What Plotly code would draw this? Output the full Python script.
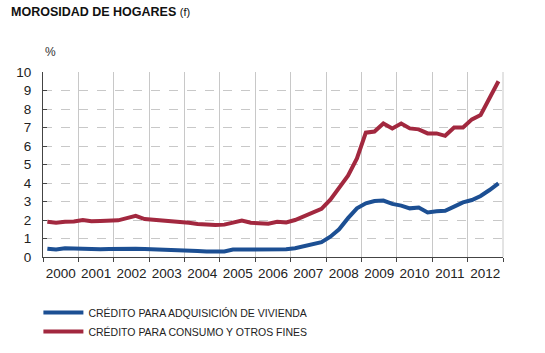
import plotly.graph_objects as go

years = list(range(2000, 2013))
quarter_mid = ["02-15", "05-15", "08-15", "11-15"]
dates = [f"{y}-{m}" for y in years for m in quarter_mid]

vivienda = [
    0.45, 0.40, 0.47, 0.45,
    0.42, 0.42, 0.42, 0.43,
    0.45, 0.45, 0.45, 0.43,
    0.42, 0.38, 0.38, 0.35,
    0.33, 0.32, 0.30, 0.28,
    0.30, 0.40, 0.40, 0.38,
    0.38, 0.38, 0.40, 0.42,
    0.47, 0.56, 0.70, 0.80,
    1.10, 1.50, 2.10, 2.63,
    2.90, 3.03, 3.05, 2.87,
    2.78, 2.63, 2.67, 2.41,
    2.47, 2.50, 2.72, 2.95,
    3.08, 3.30, 3.62, 3.98,
]
consumo = [
    1.90, 1.85, 1.90, 1.92,
    2.00, 1.93, 1.95, 1.95,
    1.98, 2.10, 2.22, 2.05,
    2.02, 1.98, 1.95, 1.90,
    1.85, 1.78, 1.75, 1.73,
    1.75, 1.88, 1.97, 1.85,
    1.85, 1.80, 1.90, 1.87,
    2.00, 2.20, 2.45, 2.60,
    3.10, 3.70, 4.40, 5.33,
    6.72, 6.78, 7.22, 6.95,
    7.22, 6.95, 6.90, 6.68,
    6.68, 6.55, 7.00, 7.00,
    7.44, 7.68, 8.58, 9.50,
]
series_names = ["CRÉDITO PARA ADQUISICIÓN DE VIVIENDA", "CRÉDITO PARA CONSUMO Y OTROS FINES"]
colors = ["#1c4f93", "#a2283f"]

fig = go.Figure()
for name, vals, c in zip(series_names, [vivienda, consumo], colors):
    fig.add_trace(go.Scatter(x=dates, y=vals, mode="lines", name=name,
                             line=dict(color=c, width=4)))

fig.update_layout(
    width=545, height=353,
    margin=dict(l=43, r=42, t=72, b=96, autoexpand=False),
    paper_bgcolor="white", plot_bgcolor="white",
    font=dict(family="Liberation Sans, Arial, sans-serif", color="#222"),
    showlegend=True,
    legend=dict(orientation="v", x=-0.01, xanchor="left",
                yref="container", y=0.156, yanchor="top",
                font=dict(family="Liberation Sans, Arial, sans-serif",
                          size=10.5, color="#222"),
                tracegroupgap=0, itemwidth=40),
    annotations=[
        dict(text="<b>MOROSIDAD DE HOGARES</b> <span style='font-size:11px'>(f)</span>",
             xref="paper", yref="paper", x=-0.075, y=1.0, yshift=60,
             xanchor="left", yanchor="middle", showarrow=False,
             font=dict(size=12.5, color="#111")),
        dict(text="%", xref="paper", yref="paper", x=0.0, y=1.0, yshift=20,
             xanchor="left", yanchor="middle", showarrow=False,
             font=dict(size=12, color="#333")),
    ],
    shapes=[dict(type="line", xref="paper", yref="paper", x0=1, x1=1, y0=0, y1=1,
                 line=dict(color="#c8c8c8", width=1))],
)
fig.update_xaxes(
    type="date", range=["2000-01-01", "2013-01-01"],
    dtick="M12", tick0="2000-01-01", tickformat="%Y", ticklabelmode="period",
    showgrid=True, gridcolor="#c8c8c8", gridwidth=1,
    showline=True, linecolor="#444", linewidth=1,
    ticks="outside", ticklen=4, tickcolor="#444",
    tickfont=dict(size=13.5, color="#222"),
)
fig.update_yaxes(
    range=[0, 10], dtick=1,
    showgrid=True, gridcolor="#c8c8c8", griddash="dash", gridwidth=1,
    showline=True, linecolor="#444", linewidth=1,
    ticks="inside", ticklen=4, tickcolor="#444",
    tickfont=dict(size=13.5, color="#222"), ticklabelstandoff=8,
    zeroline=False,
)
fig.write_html("out.html")
